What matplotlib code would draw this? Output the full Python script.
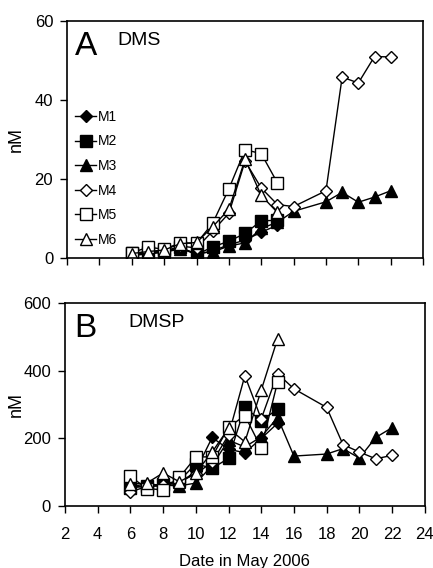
import matplotlib.pyplot as plt

plt.rcParams['font.family'] = ['Liberation Sans', 'DejaVu Sans']

# 采样日期 (May 2006)
days_short = [6, 7, 8, 9, 10, 11, 12, 13, 14, 15]
days_long = [6, 7, 8, 9, 10, 11, 12, 13, 14, 15, 16, 18, 19, 20, 21, 22]

# DMS (nM)
dms_m1 = [1.0, 1.3, 1.6, 2.5, 0.8, 1.8, 3.3, 4.5, 6.5, 8.3]
dms_m2 = [1.2, 1.5, 1.8, 2.8, 0.8, 2.8, 4.2, 6.2, 9.4, 9.5]
dms_m3 = [0.6, 1.0, 1.4, 2.3, 1.2, 1.5, 3.0, 3.8, 7.5, 9.0, 11.8, 14.2, 16.6, 14.1, 15.4, 17.0]
dms_m4 = [0.5, 1.5, 1.4, 3.0, 2.5, 6.8, 11.3, 24.5, 17.7, 13.5, 13.0, 17.0, 45.8, 44.3, 51.0, 50.9]
dms_m5 = [1.3, 2.7, 2.2, 3.8, 3.7, 8.8, 17.5, 27.4, 26.4, 19.0]
dms_m6 = [1.1, 1.6, 2.0, 3.6, 3.9, 7.9, 12.3, 25.0, 15.8, 11.5]

# DMSP (nM)
dmsp_m1 = [55, 58, 60, 65, 105, 203, 168, 158, 200, 245]
dmsp_m2 = [55, 60, 65, 75, 125, 112, 141, 292, 252, 287]
dmsp_m3 = [58, 65, 62, 60, 68, 120, 195, 175, 205, 262, 148, 154, 170, 142, 203, 232]
dmsp_m4 = [42, 58, 62, 72, 95, 130, 210, 386, 258, 392, 347, 292, 182, 160, 140, 150]
dmsp_m5 = [88, 52, 48, 85, 145, 146, 233, 268, 172, 367]
dmsp_m6 = [65, 68, 98, 72, 98, 160, 230, 190, 343, 495]

names = ['M1', 'M2', 'M3', 'M4', 'M5', 'M6']
styles = [
    dict(marker='D', ms=6, mfc='black'),
    dict(marker='s', ms=8.5, mfc='black'),
    dict(marker='^', ms=8.5, mfc='black'),
    dict(marker='D', ms=6.5, mfc='white'),
    dict(marker='s', ms=8.5, mfc='white'),
    dict(marker='^', ms=8.5, mfc='white'),
]

fig = plt.figure(figsize=(4.33, 5.68), dpi=100)
axA = fig.add_axes([0.155, 0.546, 0.822, 0.417])
axB = fig.add_axes([0.150, 0.109, 0.831, 0.357])

dms = [dms_m1, dms_m2, dms_m3, dms_m4, dms_m5, dms_m6]
dmsp = [dmsp_m1, dmsp_m2, dmsp_m3, dmsp_m4, dmsp_m5, dmsp_m6]

for i in range(6):
    xs = days_long if len(dms[i]) == len(days_long) else days_short
    axA.plot(xs, dms[i], color='black', lw=1, mec='black', mew=1,
             label=names[i], **styles[i])
    xs = days_long if len(dmsp[i]) == len(days_long) else days_short
    axB.plot(xs, dmsp[i], color='black', lw=1, mec='black', mew=1, **styles[i])

for ax in (axA, axB):
    ax.set_xlim(2, 24)
    ax.set_xticks(range(2, 25, 2))
    ax.tick_params(direction='out', length=5, width=1, labelsize=12, pad=5)
    ax.tick_params(axis='x', pad=10)
    for sp in ax.spines.values():
        sp.set_linewidth(1.2)
    ax.set_ylabel('nM', fontsize=13)

axA.set_ylim(0, 60)
axA.set_yticks([0, 20, 40, 60])
axA.tick_params(axis='x', labelbottom=False)
axA.yaxis.set_label_coords(-0.118, 0.5)

axB.set_ylim(0, 600)
axB.set_yticks([0, 200, 400, 600])
axB.set_xlabel('Date in May 2006', fontsize=12, va='top')
axB.xaxis.set_label_coords(0.5, -0.236)
axB.yaxis.set_label_coords(-0.111, 0.5)

axA.text(0.022, 0.857, 'A', transform=axA.transAxes, fontsize=24, va='baseline')
axA.text(0.14, 0.899, 'DMS', transform=axA.transAxes, fontsize=14, va='baseline')
axB.text(0.025, 0.833, 'B', transform=axB.transAxes, fontsize=24, va='baseline')
axB.text(0.175, 0.882, 'DMSP', transform=axB.transAxes, fontsize=14, va='baseline')

axA.legend(loc='upper left', bbox_to_anchor=(0.0, 0.66), frameon=False,
           fontsize=10, handlelength=1.45, handletextpad=0.15, labelspacing=0.76,
           borderaxespad=0.2)

fig.savefig('out.png', dpi=100)
